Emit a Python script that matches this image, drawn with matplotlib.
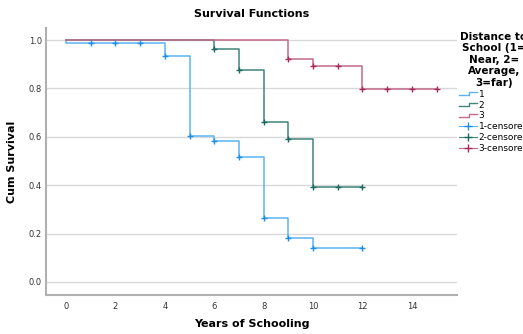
import matplotlib.pyplot as plt
from matplotlib.lines import Line2D
from matplotlib.legend_handler import HandlerBase

# step times / survival for each group
t1 = [0, 0, 4, 5, 6, 7, 8, 9, 10, 12]
s1 = [1.0, 0.988, 0.934, 0.605, 0.584, 0.516, 0.263, 0.181, 0.139, 0.139]
c1_t = [1, 2, 3, 4, 5, 6, 7, 8, 9, 10, 12]
c1_s = [0.988, 0.988, 0.988, 0.934, 0.605, 0.584, 0.516, 0.263, 0.181, 0.139, 0.139]

t2 = [0, 6, 7, 8, 9, 10, 12]
s2 = [1.0, 0.964, 0.876, 0.662, 0.59, 0.392, 0.392]
c2_t = [6, 7, 8, 9, 10, 11, 12]
c2_s = [0.964, 0.876, 0.662, 0.59, 0.392, 0.392, 0.392]

t3 = [0, 9, 10, 12, 15]
s3 = [1.0, 0.921, 0.895, 0.798, 0.798]
c3_t = [9, 10, 11, 12, 13, 14, 15]
c3_s = [0.921, 0.895, 0.895, 0.798, 0.798, 0.798, 0.798]

groups = ['1', '2', '3']
line_cols = ['#5ab4f0', '#3f857c', '#c46a8a']
mark_cols = ['#1e8fe6', '#1b6a5f', '#a82a5c']


class StepHandler(HandlerBase):
    def create_artists(self, legend, orig, xd, yd, w, h, fs, trans):
        xs = [xd, xd + w * 0.55, xd + w * 0.55, xd + w]
        ys = [yd + h * 0.25, yd + h * 0.25, yd + h * 0.75, yd + h * 0.75]
        ln = Line2D(xs, ys, color=orig.get_color(), lw=1, transform=trans)
        return [ln]


fig = plt.figure(figsize=(5.23, 3.34), dpi=100)
ax = fig.add_axes([0.088, 0.117, 0.786, 0.799])

handles = []
for t, s, col in zip([t1, t2, t3], [s1, s2, s3], line_cols):
    h, = ax.step(t, s, where='post', color=col, lw=1.1)
    handles.append(h)
for ct, cs, col, lc in zip([c1_t, c2_t, c3_t], [c1_s, c2_s, c3_s], mark_cols, line_cols):
    ax.plot(ct, cs, ls='none', marker='+', ms=5, mew=1.0, color=col)
    # legend proxy: line with a cross in the middle
    handles.append(Line2D([], [], color=lc, lw=0.8, marker='+', ms=6,
                          mew=1.0, mec=col))

ax.set_xlim(-0.81, 15.83)
ax.set_ylim(-0.054, 1.05)
ax.set_xticks(range(0, 15, 2))
ax.set_yticks([0.0, 0.2, 0.4, 0.6, 0.8, 1.0])
ax.set_yticklabels(['0.0', '0.2', '0.4', '0.6', '0.8', '1.0'])
ax.grid(axis='y', color='#d9d9d9', lw=1)
ax.set_axisbelow(True)
ax.tick_params(length=0, labelsize=6, colors='#333333')
ax.tick_params(axis='x', pad=5)
ax.tick_params(axis='y', pad=3)
for sp in ['top', 'right']:
    ax.spines[sp].set_visible(False)
for sp in ['left', 'bottom']:
    ax.spines[sp].set_color('#b0b0b0')
    ax.spines[sp].set_linewidth(1.5)

ax.set_title('Survival Functions', fontsize=8, fontweight='bold', pad=8)
ax.set_xlabel('Years of Schooling', fontsize=8, fontweight='bold', labelpad=6)
ax.set_ylabel('Cum Survival', fontsize=8, fontweight='bold', labelpad=8)

labels = groups + [g + '-censored' for g in groups]
leg = ax.legend(handles, labels, loc='upper left', bbox_to_anchor=(0.995, 1.0),
                frameon=False, fontsize=6.5, handlelength=2.0, handletextpad=0.2,
                labelspacing=0.2, borderaxespad=0, numpoints=1,
                title='Distance to\nSchool (1=\nNear, 2=\nAverage,\n3=far)',
                title_fontproperties={'weight': 'bold', 'size': 7.5},
                handler_map={h: StepHandler() for h in handles[:3]})
leg.get_title().set_multialignment('center')

plt.savefig('out.png', dpi=100)
